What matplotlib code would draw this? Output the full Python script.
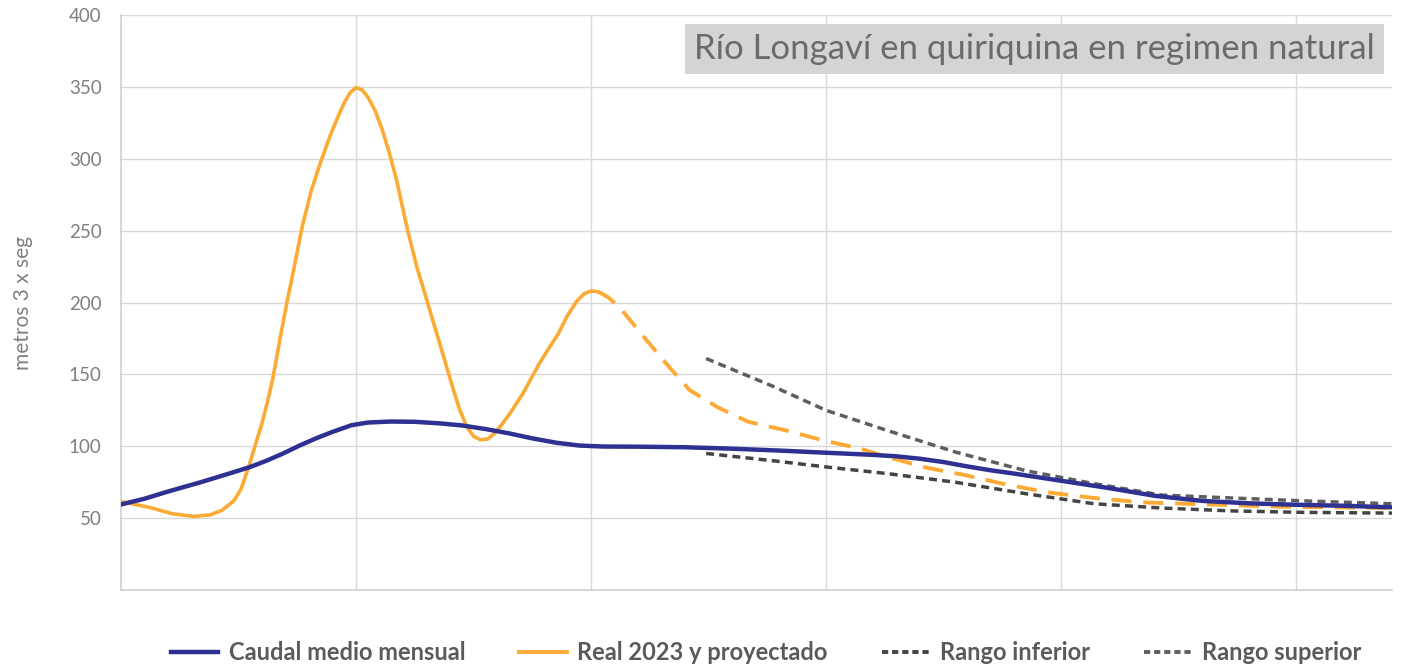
import numpy as np
import matplotlib.pyplot as plt
from matplotlib.lines import Line2D

# x in months (one vertical gridline per month), y in m3/s
caudal_x = [0.0, 0.1, 0.2, 0.34, 0.48, 0.55, 0.62, 0.69, 0.76, 0.83, 0.9, 0.98,
            1.05, 1.15, 1.25, 1.35, 1.45, 1.55, 1.65, 1.75, 1.85, 1.95, 2.05,
            2.2, 2.4, 2.6, 2.8, 3.0, 3.2, 3.3, 3.4, 3.5, 3.6, 3.7, 3.8, 4.0,
            4.2, 4.4, 4.6, 4.8, 5.0, 5.2, 5.41]
caudal_y = [59.5, 63.5, 68.5, 75, 82, 85.6, 90, 95, 100.5, 105.5, 110, 114.6,
            116.5, 117.2, 117, 116, 114.5, 112, 109, 105.5, 102.5, 100.5, 99.8,
            99.7, 99.3, 98.3, 97, 95.5, 94, 93, 91.3, 89, 86, 83.3, 81, 76,
            71, 65.5, 62, 60.3, 59.3, 58.6, 57.5]

real_x = [0.0, 0.12, 0.22, 0.31, 0.38, 0.43, 0.48, 0.51, 0.54, 0.57, 0.6, 0.625,
          0.647, 0.677, 0.706, 0.74, 0.77, 0.81, 0.85, 0.89, 0.92, 0.95, 0.975,
          1.0, 1.025, 1.05, 1.08, 1.11, 1.14, 1.17, 1.22, 1.26, 1.29, 1.315,
          1.35, 1.386, 1.415, 1.44, 1.47, 1.5, 1.53, 1.56, 1.59, 1.62, 1.66,
          1.71, 1.78, 1.82, 1.86, 1.9, 1.94, 1.97, 2.0, 2.03]
real_y = [61.5, 57.5, 53, 51.2, 52.3, 55.5, 62, 70, 84, 100, 116, 132,
          148, 175, 200, 227, 252, 278, 298, 316, 328, 339, 346,
          349.5, 348, 343, 334, 321, 305, 287, 250, 224, 208, 194,
          175, 155, 139, 126, 114, 107, 104.5, 105, 109, 115, 124,
          136.6, 157.5, 168, 178, 191, 201, 206, 208, 207.5]

proy_x = [2.03, 2.07, 2.12, 2.22, 2.32, 2.42, 2.54, 2.67, 2.83, 2.99, 3.14, 3.28,
          3.43, 3.59, 3.75, 3.94, 4.14, 4.34, 4.53, 4.73, 4.92, 5.12, 5.41]
proy_y = [207.5, 204, 197, 177, 157.5, 139, 127, 117, 111, 104, 98.6, 91.7,
          85, 80, 74, 68, 64, 61, 60, 59, 58, 57.6, 57]

rango_x = [2.49, 2.77, 3.0, 3.26, 3.55, 3.85, 4.14, 4.43, 4.73, 5.03, 5.41]
sup_y = [161, 142, 125, 111, 96, 83, 74, 66, 64, 62, 60]
inf_y = [95, 90, 85.6, 81, 75, 67, 60, 57, 55, 54, 53.5]

y_ticks = [50, 100, 150, 200, 250, 300, 350, 400]
titulo = "Río Longaví en quiriquina en regimen natural"
labels = ["Caudal medio mensual", "Real 2023 y proyectado", "Rango inferior", "Rango superior"]

AZUL = "#2e3191"
NARANJA = "#fbab35"
GRIS_INF = "#444444"
GRIS_SUP = "#5e5e5e"

plt.rcParams['font.family'] = ['Lato', 'DejaVu Sans']

fig = plt.figure(figsize=(14.03, 6.71), dpi=100)
ax = fig.add_axes([121 / 1403, 1 - 590 / 671, (1392 - 121) / 1403, (590 - 15) / 671])

ax.plot(caudal_x, caudal_y, color=AZUL, lw=3.2, solid_capstyle='round',
        solid_joinstyle='round', zorder=4)
ax.plot(real_x, real_y, color=NARANJA, lw=2.6, solid_capstyle='round',
        solid_joinstyle='round', zorder=3)
ax.plot(proy_x, proy_y, color=NARANJA, lw=2.8, dashes=(5.2, 3.0), zorder=3)
ax.plot(rango_x, inf_y, color=GRIS_INF, lw=2.5, dashes=(2.3, 1.5), zorder=2)
ax.plot(rango_x, sup_y, color=GRIS_SUP, lw=2.5, dashes=(2.3, 1.5), zorder=2)

ax.set_xlim(0, (1392 - 121) / 235)
ax.set_ylim(0, 400)
ax.set_xticks([1, 2, 3, 4, 5])
ax.set_xticklabels([])
ax.set_yticks(y_ticks)
ax.tick_params(length=0, labelsize=13.5, labelcolor="#7f7f7f", pad=14)
ax.grid(True, color="#d9d9d9", lw=1.0)
ax.set_axisbelow(True)
for s in ["top", "right"]:
    ax.spines[s].set_visible(False)
for s in ["left", "bottom"]:
    ax.spines[s].set_color("#cfcfcf")
    ax.spines[s].set_linewidth(1.2)
ax.set_ylabel("metros 3 x seg", fontsize=15, color="#808080", labelpad=26)

ax.text(0.9865, 0.941, titulo, transform=ax.transAxes, ha='right', va='center',
        fontsize=25, color="#6b6b6b",
        bbox=dict(boxstyle='square,pad=0.25', fc="#d4d4d4", ec='none'), zorder=6)

handles = [
    Line2D([], [], color=AZUL, lw=3.2),
    Line2D([], [], color=NARANJA, lw=2.8),
    Line2D([], [], color=GRIS_INF, lw=2.8, dashes=(1.6, 1.0)),
    Line2D([], [], color=GRIS_SUP, lw=2.8, dashes=(1.6, 1.0)),
]
fig.legend(handles, labels, loc='center', bbox_to_anchor=(0.546, 0.027), ncol=4,
           frameon=False, handlelength=2.0, handletextpad=0.45, columnspacing=2.3,
           prop={'weight': 'bold', 'size': 17}, labelcolor="#5a5a5a")

fig.savefig("out.png", dpi=100)
